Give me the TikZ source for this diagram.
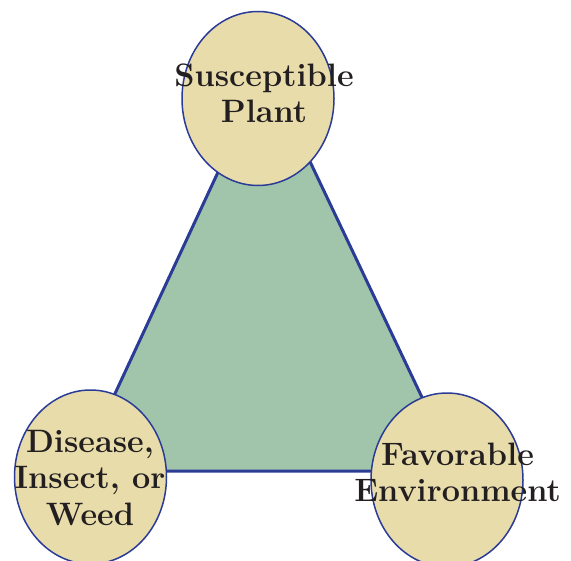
\documentclass[tikz,border=0pt]{standalone}
\usetikzlibrary{shapes.geometric}
\definecolor{trigreen}{HTML}{A0C5AB}
\definecolor{ovalfill}{HTML}{E8DCAB}
\definecolor{edgeblue}{HTML}{2B3C97}
\definecolor{inkdark}{HTML}{231F20}
\tikzset{
  oval/.style={ellipse, draw=edgeblue, fill=ovalfill, line width=1.5bp,
    minimum width=152bp, minimum height=174bp, inner sep=0pt},
  label text/.style={align=center, text=inkdark, inner sep=0pt,
    font=\fontsize{32.4bp}{36.5bp}\selectfont\bfseries},
  tri/.style={fill=trigreen, draw=edgeblue, line width=3bp, line join=miter}
}
\begin{document}
\begin{tikzpicture}[x=1bp,y=-1bp]
\useasboundingbox (0,0) rectangle (571,561);
\coordinate (A) at (266,69);
\coordinate (B) at (79,471);
\coordinate (C) at (457,471);
\filldraw[tri] (A) -- (B) -- (C) -- cycle;
\node[oval] (top) at (258,98.5) {};
\node[oval] (left) at (90.5,477) {};
\node[oval] (right) at (447,480) {};
\node[label text] (ttop) at (264,93.5) {Susceptible\\Plant};
\node[label text] (tleft) at (90,478) {Disease,\\Insect, or\\Weed};
\node[label text] (tright) at (457.5,472.5) {Favorable\\Environment};
\end{tikzpicture}
\end{document}
